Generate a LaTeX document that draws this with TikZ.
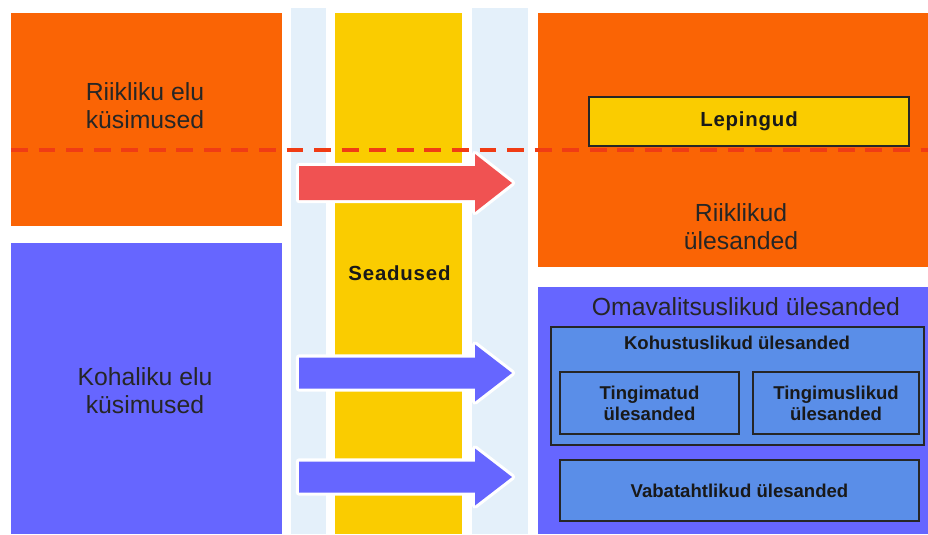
\documentclass[tikz,border=0pt]{standalone}
\usepackage{fontspec}
\setmainfont{Liberation Sans}
\usetikzlibrary{positioning}
\definecolor{oran}{RGB}{250,100,5}
\definecolor{lila}{RGB}{102,102,255}
\definecolor{kollane}{RGB}{250,204,0}
\definecolor{punane}{RGB}{240,82,82}
\definecolor{sinine}{RGB}{90,142,232}
\definecolor{helesinine}{RGB}{228,240,250}
\definecolor{kriips}{RGB}{240,60,20}
\newcommand{\harva}[1]{{\fontsize{14.5}{16}\selectfont\addfontfeature{LetterSpace=4}#1}}
\tikzset{font=\fontsize{17.6}{19.8}\selectfont}
\tikzstyle{txt}=[text=black!85,align=center,inner sep=0pt]
\tikzstyle{bld}=[font=\fontsize{13.2}{14.9}\selectfont\bfseries,text=black!90,align=center,inner sep=0pt]
\tikzstyle{kast}=[draw=black!85,line width=0.9pt,inner sep=0pt]
\tikzstyle{nool}=[preaction={draw=white,line width=4.5pt,line join=round}]

\begin{document}
\begin{tikzpicture}[x=0.025cm,y=-0.025cm]
\useasboundingbox (0,0) rectangle (928,534);
\fill[helesinine] (291,8) rectangle (326,534);
\fill[helesinine] (472,8) rectangle (528,534);
\fill[kollane] (335,13) rectangle (462,534);
\fill[oran] (11,13) rectangle (282,226);
\fill[lila] (11,243) rectangle (282,534);
\fill[oran] (538,13) rectangle (928,267);
\fill[lila] (538,287) rectangle (928,534);
\foreach \y/\s/\h/\c in {183/17/29/punane,373/15.5/28.5/lila,477/15.5/28.5/lila}
  \fill[nool,\c] (299,\y-\s) -- (475,\y-\s) -- (475,\y-\h) -- (512,\y)
    -- (475,\y+\h) -- (475,\y+\s) -- (299,\y+\s) -- cycle;
\draw[kriips,line width=2.5pt,dash pattern=on 12pt off 7.6pt] (11,150) -- (928,150);

\node[txt] (A) at (145,106) {Riikliku elu\\küsimused};
\node[txt] (B) at (145,391) {Kohaliku elu\\küsimused};
\node[bld] (S) at (399.5,273) {\harva{Seadused}};
\node[kast,fill=kollane,minimum width=8cm,minimum height=1.225cm] (L) at (749,121.5) {};
\node[bld] (LT) at (L) {\harva{Lepingud}};
\node[txt] (R) at (741,227) {Riiklikud\\ülesanded};
\node[txt] (O) at (746,307) {Omavalitsuslikud ülesanded};
\node[kast,fill=sinine,minimum width=9.325cm,minimum height=2.95cm] (K) at (737.5,386) {};
\node[bld] (KT) at (737,343) {Kohustuslikud ülesanded};
\node[kast,fill=sinine,minimum width=4.475cm,minimum height=1.55cm] (T1) at (649.5,403) {};
\node[bld] (T1T) at (T1) {Tingimatud\\ülesanded};
\node[kast,fill=sinine,minimum width=4.15cm,minimum height=1.55cm] (T2) at (836,403) {};
\node[bld] (T2T) at (T2) {Tingimuslikud\\ülesanded};
\node[kast,fill=sinine,minimum width=8.975cm,minimum height=1.525cm] (V) at (739.5,490.5) {};
\node[bld] (VT) at (V) {Vabatahtlikud ülesanded};
\end{tikzpicture}
\end{document}
